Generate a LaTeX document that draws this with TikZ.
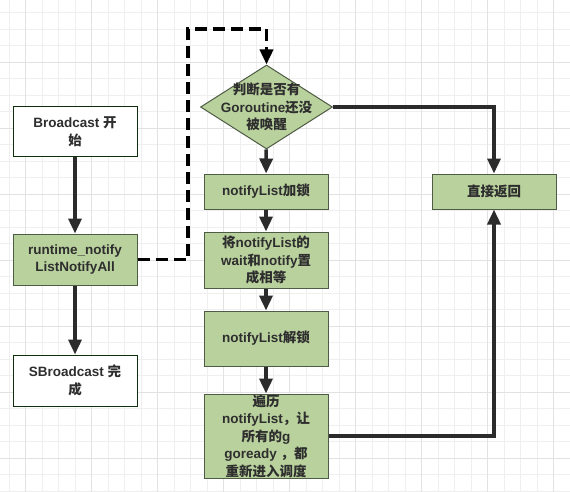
\documentclass[tikz,border=0pt]{standalone}
\usepackage{tikz}
\usetikzlibrary{shapes.geometric, arrows.meta}
\usepackage{fontspec}
\usepackage{xcolor}
\setmainfont{Liberation Sans}
\newfontfamily\cjk{Noto Sans CJK SC}
\newcommand{\zh}[1]{{\cjk #1}}
\definecolor{boxgreen}{HTML}{B9D19D}
\definecolor{boxline}{HTML}{4E5B45}
\definecolor{termline}{HTML}{0E2E0E}
\definecolor{linecol}{HTML}{2B2B2B}
\definecolor{gridminor}{HTML}{EFEFEF}
\definecolor{gridmajor}{HTML}{E2E2E2}
\definecolor{textcol}{HTML}{2E2E2E}
\tikzstyle{terminal} = [rectangle, minimum width=124pt, draw=termline, line width=1pt, fill=white, text=textcol, align=center, font=\fontsize{13.5}{17.5}\selectfont\bfseries]
\tikzstyle{process} = [rectangle, minimum width=124pt, draw=boxline, line width=1pt, fill=boxgreen, text=textcol, align=center, inner sep=0pt, font=\fontsize{13.5}{17.5}\selectfont\bfseries]
\tikzstyle{decision} = [diamond, minimum width=132pt, minimum height=84pt, inner sep=0pt, draw=boxline, line width=1pt, fill=boxgreen]
\tikzstyle{arrow} = [line width=3.5pt, draw=linecol, -{Triangle[width=13pt,length=15pt]}]
\tikzstyle{dasharrow} = [arrow, draw=black, dash pattern=on 12pt off 6pt]

\begin{document}
\begin{tikzpicture}[x=1pt,y=-1pt]
		\useasboundingbox (0,0) rectangle (570,492);
		%grid
		\foreach \k in {0,...,34} {
			\draw[gridminor, line width=1pt] (9.2+16.5*\k,0) -- (9.2+16.5*\k,492);
		}
		\foreach \k in {0,...,29} {
			\draw[gridminor, line width=1pt] (0,12.8+16.5*\k) -- (570,12.8+16.5*\k);
		}
		\foreach \k in {0,...,8} {
			\draw[gridmajor, line width=1pt] (25.7+66*\k,0) -- (25.7+66*\k,492);
		}
		\foreach \k in {0,...,6} {
			\draw[gridmajor, line width=1pt] (0,62.3+66*\k) -- (570,62.3+66*\k);
		}

		%Broadcast
		\node[terminal, minimum height=49pt] (start) at (75,131.5) {Broadcast \zh{开}\\\zh{始}};
		\node[process, minimum height=51pt] (notifyall) at (75,259.5) {runtime\_notify\\ListNotifyAll};
		\node[terminal, minimum height=51pt] (done) at (75,380.5) {SBroadcast \zh{完}\\\zh{成}};

		%notifyListNotifyAll
		\node[decision, label={[text=textcol, align=center, font=\fontsize{13.5}{17.5}\selectfont\bfseries]center:\zh{判断是否有}\\Goroutine\zh{还没}\\\zh{被唤醒}}] (check) at (266.5,107) {};
		\node[process, minimum height=35pt] (lock) at (266,191.5) {notifyList\zh{加锁}};
		\node[process, minimum height=56pt] (equal) at (266,260) {\zh{将}notifyList\zh{的}\\wait\zh{和}notify\zh{置}\\\zh{成相等}};
		\node[process, minimum height=55pt] (unlock) at (266,338.5) {notifyList\zh{解锁}};
		\node[process, minimum height=84pt] (ready) at (266,436) {\zh{遍历}\\notifyList\zh{，让}\\\zh{所有的}g\\goready \zh{，都}\\\zh{重新进入调度}};
		\node[process, minimum height=35pt] (ret) at (494,191.5) {\zh{直接返回}};
		\coordinate (loop) at (188,29);

		%connections
		\draw[arrow] (start) -- (notifyall);
		\draw[arrow] (notifyall) -- (done);
		\draw[dasharrow] (notifyall.east) -| (loop) -| (check.north);
		\draw[arrow] (check) -- (lock);
		\draw[arrow] (lock) -- (equal);
		\draw[arrow] (equal) -- (unlock);
		\draw[arrow] (unlock) -- (ready);
		\draw[arrow] (check.east) -| (ret.north);
		\draw[arrow] (ready.east) -| (ret.south);
	\end{tikzpicture}
\end{document}
